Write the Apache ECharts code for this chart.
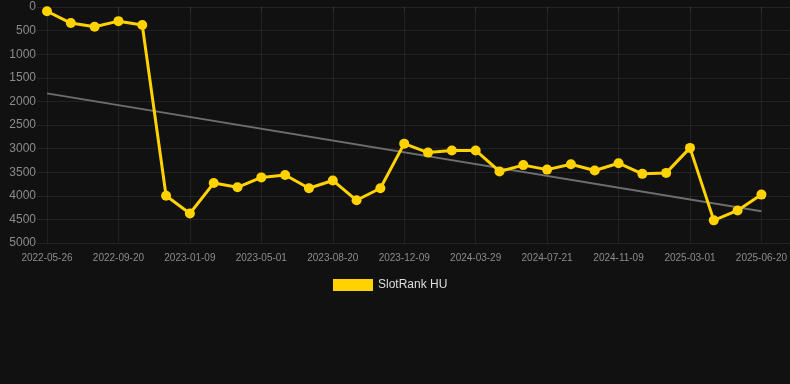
<!DOCTYPE html>
<html>
<head>
<meta charset="utf-8">
<script src="https://cdn.jsdelivr.net/npm/echarts@6/dist/echarts.min.js"></script>
<style>
  html, body { margin: 0; padding: 0; background: #111111; }
  #chart { width: 790px; height: 384px; }
</style>
</head>
<body>
<div id="chart"></div>
<script>
// dates of each ranking snapshot (only every 3rd is labelled)
var dates = [
  '2022-05-26', '2022-07-03', '2022-08-12', '2022-09-20', '2022-10-27', '2022-12-03',
  '2023-01-09', '2023-02-15', '2023-03-24', '2023-05-01', '2023-06-07', '2023-07-14',
  '2023-08-20', '2023-09-26', '2023-11-02', '2023-12-09', '2024-01-15', '2024-02-21',
  '2024-03-29', '2024-05-06', '2024-06-13', '2024-07-21', '2024-08-27', '2024-10-03',
  '2024-11-09', '2024-12-16', '2025-01-22', '2025-03-01', '2025-04-07', '2025-05-14',
  '2025-06-20'
];
// rank values (smaller = better, axis is inverted)
var rankHU = [
  90, 340, 420, 300, 380, 4000,
  4375, 3730, 3820, 3610, 3560, 3840,
  3675, 4095, 3840, 2895, 3085, 3040,
  3040, 3485, 3350, 3445, 3330, 3465,
  3310, 3535, 3515, 2985, 4520, 4310,
  3975
];
// trend line end points
var trendDates = ['2022-05-26', '2025-06-20'];
var trendValues = [1830, 4327];

var yMin = 0, yMax = 5000, yStep = 500;

var faint = 'rgba(255,255,255,0.07)';
var font = '"Liberation Sans", Arial, sans-serif';

var myChart = echarts.init(document.getElementById('chart'));
var option = {
  backgroundColor: '#111111',
  animation: false,
  textStyle: { fontFamily: font },
  legend: {
    data: ['SlotRank HU'],
    top: 274,
    left: 328,
    icon: 'rect',
    itemWidth: 40,
    itemHeight: 12,
    itemGap: 10,
    textStyle: { color: '#dddddd', fontSize: 12, fontFamily: font }
  },
  grid: [
    { left: 47, right: 28, top: 7, bottom: 141 },
    // wider grid only for the horizontal split lines
    { left: 37, right: 0, top: 7, bottom: 141 }
  ],
  xAxis: [
    {
      type: 'category',
      gridIndex: 0,
      data: dates,
      boundaryGap: false,
      axisLine: { show: false },
      axisTick: { show: true, interval: 2, length: 5, lineStyle: { color: faint } },
      axisLabel: { interval: 2, color: '#8c8c8c', fontSize: 10, margin: 10, fontFamily: font },
      splitLine: { show: true, interval: 2, lineStyle: { color: faint } }
    },
    { type: 'value', gridIndex: 1, min: 0, max: 1, show: false }
  ],
  yAxis: [
    {
      type: 'value',
      gridIndex: 0,
      inverse: true,
      min: yMin, max: yMax, interval: yStep,
      axisLine: { show: false },
      axisTick: { show: false },
      axisLabel: {
        color: '#8c8c8c', fontSize: 12, margin: 11, fontFamily: font,
        formatter: function (v) { return String(v); }
      },
      splitLine: { show: false }
    },
    {
      type: 'value',
      gridIndex: 1,
      inverse: true,
      min: yMin, max: yMax, interval: yStep,
      axisLine: { show: false },
      axisTick: { show: false },
      axisLabel: { show: false },
      splitLine: { show: true, lineStyle: { color: faint } }
    }
  ],
  series: [
    {
      name: 'trend',
      type: 'line',
      xAxisIndex: 0, yAxisIndex: 0,
      data: [[trendDates[0], trendValues[0]], [trendDates[1], trendValues[1]]],
      symbol: 'none',
      lineStyle: { color: '#6e6e6e', width: 2 },
      silent: true,
      z: 1
    },
    {
      name: 'SlotRank HU',
      type: 'line',
      xAxisIndex: 0, yAxisIndex: 0,
      data: rankHU,
      symbol: 'circle',
      symbolSize: 10,
      color: '#FFD200',
      lineStyle: { color: '#FFD200', width: 3 },
      itemStyle: { color: '#FFD200' },
      z: 3
    }
  ]
};
myChart.setOption(option);
</script>
</body>
</html>
